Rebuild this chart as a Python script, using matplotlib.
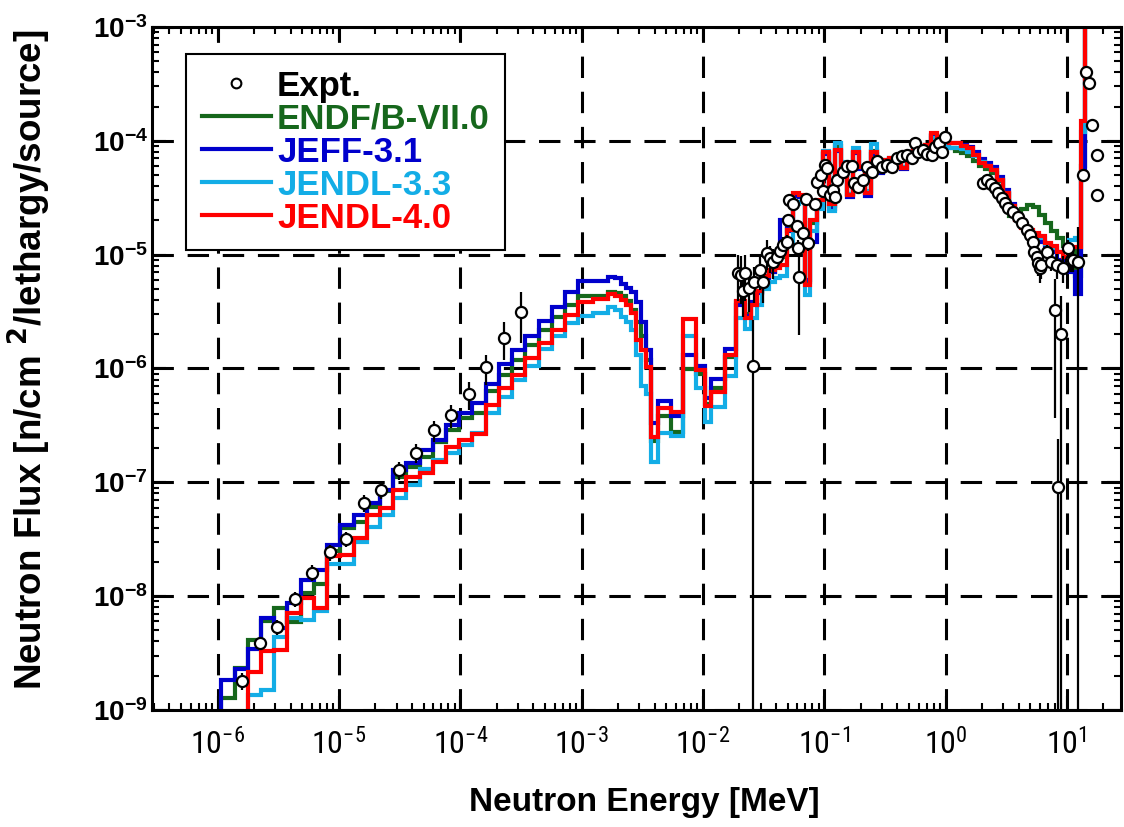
import numpy as np
import matplotlib
matplotlib.use("Agg")
import matplotlib.pyplot as plt
from matplotlib import font_manager
from matplotlib.lines import Line2D
from matplotlib.ticker import FixedLocator, LogLocator, NullFormatter

fonts = font_manager.fontManager.ttflist
names = {f.name for f in fonts}
narrow_kw = dict(fontfamily="Liberation Sans", fontsize=21)
for cand in ["Liberation Sans Narrow", "Roboto Condensed", "Open Sans Condensed"]:
    if cand in names:
        narrow_kw = dict(fontfamily=cand, fontsize=23)
        break
else:
    if any(f.name == "DejaVu Sans" and f.stretch == "condensed" for f in fonts):
        narrow_kw = dict(fontfamily="DejaVu Sans", fontstretch="condensed", fontsize=21)
plt.rcParams["font.family"] = ["Liberation Sans", "DejaVu Sans"]

# group boundaries [MeV]
edges_low = [8.32e-7, 1.07e-6, 1.38e-6, 1.77e-6, 2.28e-6, 2.92e-6, 3.76e-6, 4.83e-6, 6.21e-6, 7.98e-6,
             1.03e-5, 1.32e-5, 1.69e-5, 2.18e-5, 2.80e-5, 3.60e-5, 4.62e-5, 5.94e-5, 7.64e-5, 9.82e-5,
             1.26e-4, 1.62e-4, 2.08e-4, 2.68e-4, 3.44e-4, 4.43e-4, 5.69e-4, 7.31e-4, 9.40e-4]
edges_mid = [1.24e-3, 1.65e-3, 1.88e-3, 2.13e-3, 2.34e-3, 2.57e-3, 2.83e-3, 3.11e-3, 3.42e-3, 3.76e-3,
             4.27e-3, 5.50e-3, 6.85e-3, 8.84e-3, 1.04e-2, 1.17e-2, 1.51e-2]
edges_high = [0.01882, 0.02203, 0.02468, 0.02766, 0.03099, 0.03473, 0.03892, 0.04361, 0.04887, 0.05477,
              0.06137, 0.06877, 0.07706, 0.08639, 0.09683, 0.1085, 0.1216, 0.1363, 0.1527, 0.1711,
              0.1918, 0.2149, 0.2408, 0.2698, 0.3024, 0.3389, 0.3798, 0.4256, 0.4769, 0.5344,
              0.5988, 0.6711, 0.7520, 0.8428, 0.9447, 1.059, 1.186, 1.330, 1.490, 1.670,
              1.871, 2.097, 2.350, 2.633, 2.951, 3.307, 3.706, 4.153, 4.654, 5.214,
              5.844, 6.549, 7.339, 8.224, 9.215, 10.33, 11.57, 12.97, 14.0, 15.4]
edges = np.array(edges_low + edges_mid + edges_high)

# ENDF/B-VII.0
endf_low = [5e-10, 1.27e-9, 2.32e-9, 4.12e-9, 6.03e-9, 7.83e-9, 5.97e-9, 1.06e-8, 1.28e-8, 2.51e-8,
            3.94e-8, 4.52e-8, 6.11e-8, 8.32e-8, 1.12e-7, 1.35e-7, 1.68e-7, 2.24e-7, 2.88e-7, 3.66e-7,
            4.05e-7, 6.40e-7, 8.79e-7, 1.19e-6, 1.61e-6, 2.19e-6, 2.86e-6, 3.63e-6, 4.35e-6, 4.35e-6]
endf_mid = [4.65e-6, 4.57e-6, 4.29e-6, 3.89e-6, 3.27e-6, 2.58e-6, 1.91e-6, 1.19e-6,
            2.29e-7, 3.83e-7, 2.79e-7, 9.86e-7, 8.91e-7, 4.90e-7, 6.76e-7, 1.26e-6]
endf_high = [3.8e-6, 3.0e-6, 3.7e-6, 4.7e-6, 6.3e-6, 7.1e-6, 8.0e-6, 9.5e-6, 1.7e-5, 3.3e-5,
             3.3e-5, 5.8e-6, 1.9e-5, 2.9e-5, 7.8e-5, 2.7e-5, 9.0e-5, 6.0e-5, 3.4e-5, 8.0e-5,
             5.8e-5, 3.5e-5, 8.2e-5, 5.8e-5, 6.6e-5, 6.9e-5, 6.6e-5, 5.8e-5, 7.9e-5, 8.2e-5,
             8.7e-5, 9.1e-5, 1.1e-4, 1.04e-4, 9.5e-5, 8.6e-5, 8.2e-5, 7.8e-5, 7.3e-5, 6.7e-5,
             6.0e-5, 5.6e-5, 5.2e-5, 4.4e-5, 3.4e-5, 2.2e-5, 2.2e-5, 2.5e-5, 2.75e-5, 2.6e-5,
             2.25e-5, 1.9e-5, 1.6e-5, 1.4e-5, 1.2e-5, 1.15e-5, 6.5e-6, 6.0e-5, 3.0e-3]

# JEFF-3.1
jeff_low = [5e-10, 1.84e-9, 2.28e-9, 3.41e-9, 6.47e-9, 5.22e-9, 8.77e-9, 1.39e-8, 1.70e-8, 2.82e-8,
            4.23e-8, 5.16e-8, 6.55e-8, 8.57e-8, 1.28e-7, 1.49e-7, 1.93e-7, 2.36e-7, 3.19e-7, 4.09e-7,
            4.94e-7, 7.33e-7, 1.10e-6, 1.46e-6, 1.93e-6, 2.62e-6, 3.50e-6, 4.74e-6, 5.92e-6, 5.92e-6]
jeff_mid = [6.41e-6, 6.21e-6, 5.53e-6, 5.07e-6, 4.68e-6, 3.87e-6, 2.58e-6, 1.46e-6,
            3.30e-7, 5.13e-7, 3.80e-7, 1.32e-6, 1.05e-6, 5.50e-7, 8.04e-7, 1.48e-6]
jeff_high = [3.6e-6, 2.9e-6, 3.8e-6, 4.6e-6, 6.2e-6, 7.0e-6, 9.0e-6, 2.0e-5, 1.6e-5, 3.3e-5,
             3.2e-5, 6.0e-6, 1.3e-5, 2.7e-5, 7.6e-5, 2.5e-5, 8.1e-5, 5.8e-5, 3.2e-5, 7.8e-5,
             5.6e-5, 3.3e-5, 7.6e-5, 5.2e-5, 6.4e-5, 6.7e-5, 6.5e-5, 5.6e-5, 7.8e-5, 8.1e-5,
             8.6e-5, 9.0e-5, 1.12e-4, 1.05e-4, 1.0e-4, 9.6e-5, 9.6e-5, 9.2e-5, 8.9e-5, 8.0e-5,
             6.9e-5, 6.4e-5, 5.9e-5, 4.8e-5, 3.7e-5, 2.8e-5, 2.1e-5, 1.75e-5, 1.55e-5, 1.42e-5,
             1.3e-5, 1.15e-5, 1.05e-5, 9.0e-6, 8.0e-6, 7.0e-6, 4.5e-6, 5.0e-5, 3.0e-3]

# JENDL-3.3
j33_low = [5e-10, 5e-10, 5e-10, 1.36e-9, 1.50e-9, 4.41e-9, 6.46e-9, 6.18e-9, 7.41e-9, 1.91e-8,
           1.91e-8, 3.02e-8, 4.08e-8, 5.16e-8, 7.24e-8, 9.55e-8, 1.30e-7, 1.58e-7, 1.80e-7, 2.13e-7,
           2.69e-7, 4.05e-7, 5.66e-7, 7.94e-7, 1.05e-6, 1.48e-6, 1.93e-6, 2.50e-6, 2.90e-6, 3.05e-6]
j33_mid = [3.45e-6, 3.27e-6, 2.86e-6, 2.58e-6, 2.18e-6, 1.32e-6, 7.0e-7, 6.0e-7,
           1.52e-7, 2.69e-7, 2.57e-7, 1.93e-6, 6.76e-7, 3.39e-7, 4.62e-7, 8.51e-7]
j33_high = [2.8e-6, 2.2e-6, 2.8e-6, 3.6e-6, 5.0e-6, 5.8e-6, 6.2e-6, 6.5e-6, 1.3e-5, 2.8e-5,
            2.9e-5, 4.4e-6, 1.6e-5, 2.5e-5, 8.2e-5, 2.4e-5, 9.5e-5, 6.5e-5, 3.4e-5, 8.6e-5,
            6.0e-5, 3.6e-5, 9.3e-5, 6.0e-5, 6.8e-5, 7.0e-5, 6.8e-5, 5.9e-5, 8.0e-5, 8.3e-5,
            8.7e-5, 9.0e-5, 1.05e-4, 1.0e-4, 9.0e-5, 8.7e-5, 8.6e-5, 8.4e-5, 8.0e-5, 7.3e-5,
            6.5e-5, 6.0e-5, 5.5e-5, 4.5e-5, 3.5e-5, 2.7e-5, 2.0e-5, 1.75e-5, 1.6e-5, 1.5e-5,
            1.4e-5, 1.25e-5, 1.15e-5, 1.05e-5, 1.05e-5, 1.35e-5, 1.4e-5, 1.2e-4, 3.0e-3]

# JENDL-4.0
j40_low = [5e-10, 5e-10, 5e-10, 2.17e-9, 3.32e-9, 3.37e-9, 7.08e-9, 9.59e-9, 7.94e-9, 2.24e-8,
           2.30e-8, 3.24e-8, 5.13e-8, 5.92e-8, 8.63e-8, 1.12e-7, 1.20e-7, 1.52e-7, 2.06e-7, 2.36e-7,
           2.66e-7, 4.79e-7, 6.71e-7, 8.79e-7, 1.23e-6, 1.67e-6, 2.18e-6, 2.96e-6, 3.87e-6, 4.06e-6]
j40_mid = [4.50e-6, 4.29e-6, 4.01e-6, 3.63e-6, 3.05e-6, 1.78e-6, 1.46e-6, 1.04e-6,
           2.52e-7, 4.47e-7, 4.18e-7, 2.71e-6, 9.73e-7, 4.68e-7, 6.27e-7, 1.32e-6]
j40_high = [3.93e-6, 2.79e-6, 3.62e-6, 4.81e-6, 6.52e-6, 7.35e-6, 7.66e-6, 8.13e-6, 1.65e-5, 3.49e-5,
            3.35e-5, 5.43e-6, 2.02e-5, 3.03e-5, 8.00e-5, 2.79e-5, 8.33e-5, 6.15e-5, 3.35e-5, 8.00e-5,
            5.91e-5, 3.49e-5, 8.00e-5, 5.91e-5, 6.81e-5, 7.10e-5, 6.81e-5, 5.80e-5, 8.00e-5, 8.33e-5,
            8.85e-5, 9.23e-5, 1.17e-4, 1.08e-4, 1.02e-4, 9.59e-5, 9.59e-5, 9.00e-5, 8.60e-5, 7.53e-5,
            6.41e-5, 6.00e-5, 5.56e-5, 4.54e-5, 3.49e-5, 2.70e-5, 2.02e-5, 1.72e-5, 1.65e-5, 1.56e-5,
            1.46e-5, 1.27e-5, 1.20e-5, 1.06e-5, 9.57e-6, 1.17e-5, 1.17e-5, 1.50e-4, 3.0e-3]

# measured spectrum
expt_e = [1.60e-6, 2.22e-6, 3.08e-6, 4.31e-6, 6.04e-6, 8.38e-6, 1.15e-5, 1.60e-5, 2.24e-5, 3.13e-5,
          4.35e-5, 6.04e-5, 8.45e-5, 1.17e-4, 1.62e-4, 2.28e-4, 3.19e-4,
          0.01929, 0.02042, 0.02121, 0.02203, 0.02377, 0.02564, 0.02662, 0.02928, 0.03100, 0.03344,
          0.03540, 0.03748, 0.04044, 0.04280, 0.04531, 0.04888, 0.04982, 0.05173, 0.05478, 0.05910,
          0.06024, 0.06139, 0.06623, 0.07012, 0.07283, 0.08318, 0.08640, 0.09322, 0.09683, 0.1006,
          0.1045, 0.1106, 0.1171, 0.1216, 0.1263, 0.1415, 0.1527, 0.1679, 0.1744, 0.1881,
          0.2068, 0.2232, 0.2454, 0.2698, 0.2968, 0.3264, 0.3588, 0.3945, 0.4337, 0.4769,
          0.5244, 0.5551, 0.5876, 0.6461, 0.6973, 0.7667, 0.8116, 0.8755, 0.9269, 0.9812,
          2.018, 2.178, 2.350, 2.535, 2.684, 2.895, 3.064, 3.245, 3.568, 3.923,
          4.232, 4.654, 4.926, 5.214, 5.314, 5.626, 5.734, 5.955, 6.069, 6.803,
          7.339, 7.918, 8.224, 8.382, 8.874, 9.216, 10.13, 10.73, 11.14, 12.25,
          13.47, 14.26, 15.10, 15.98, 17.57, 17.57]
expt_flux = [1.81e-9, 3.85e-9, 5.33e-9, 9.39e-9, 1.61e-8, 2.43e-8, 3.18e-8, 6.64e-8, 8.57e-8, 1.27e-7,
             1.82e-7, 2.88e-7, 3.91e-7, 5.94e-7, 1.02e-6, 1.87e-6, 3.16e-6,
             6.92e-6, 6.65e-6, 4.81e-6, 6.92e-6, 5.11e-6, 1.05e-6, 5.77e-6, 7.35e-6, 5.77e-6, 1.04e-5,
             9.38e-6, 8.65e-6, 9.57e-6, 1.08e-5, 1.22e-5, 1.29e-5, 2.00e-5, 3.03e-5, 2.79e-5, 1.79e-5,
             1.15e-5, 6.38e-6, 1.56e-5, 3.09e-5, 1.27e-5, 2.79e-5, 4.37e-5, 5.03e-5, 3.63e-5, 6.15e-5,
             5.79e-5, 3.35e-5, 3.71e-5, 3.22e-5, 4.54e-5, 5.35e-5, 6.03e-5, 6.03e-5, 4.28e-5, 3.94e-5,
             4.54e-5, 5.91e-5, 5.35e-5, 6.67e-5, 5.91e-5, 6.15e-5, 5.91e-5, 7.10e-5, 7.38e-5, 7.53e-5,
             7.10e-5, 9.59e-5, 8.00e-5, 8.33e-5, 7.69e-5, 7.53e-5, 8.85e-5, 9.59e-5, 8.00e-5, 1.08e-4,
             4.28e-5, 4.54e-5, 4.19e-5, 3.86e-5, 3.49e-5, 3.15e-5, 2.85e-5, 2.58e-5, 2.38e-5, 2.15e-5,
             1.90e-5, 1.65e-5, 1.49e-5, 1.29e-5, 1.06e-5, 9.57e-6, 8.47e-6, 7.66e-6, 8.13e-6, 1.06e-5,
             8.65e-6, 3.27e-6, 8.13e-6, 9.12e-8, 2.01e-6, 7.66e-6, 1.15e-5, 8.99e-6, 8.99e-6, 8.65e-6,
             5.03e-5, 4.04e-4, 3.24e-4, 1.38e-4, 7.53e-5, 3.35e-5]
expt_err = [3e-10, 5e-10, 8e-10, 1.4e-9, 2.5e-9, 4e-9, 5e-9, 1.1e-8, 1.5e-8, 2.3e-8,
            3.5e-8, 6e-8, 9e-8, 1.6e-7, 3e-7, 6.8e-7, 1.5e-6,
            3e-6, 3e-6, 2e-6, 3e-6, 2e-6, 1.6e-6, 2e-6, 2.5e-6, 2e-6, 3e-6,
            2.5e-6, 2.5e-6, 2e-6, 2e-6, 2e-6, 2e-6, 2e-6, 2e-6, 2e-6, 2e-6,
            2e-6, 4.4e-6, 2e-6, 2e-6, 2e-6, 2e-6, 2.5e-6, 2.5e-6, 2e-6, 3e-6,
            3e-6, 2e-6, 2e-6, 2e-6, 2e-6, 2e-6, 2e-6, 2e-6, 2e-6, 2e-6,
            2e-6, 2e-6, 2e-6, 2e-6, 2e-6, 2e-6, 2e-6, 2e-6, 2e-6, 2e-6,
            2e-6, 3e-6, 3e-6, 3e-6, 3e-6, 3e-6, 3e-6, 3e-6, 3e-6, 3e-6,
            1.5e-6, 1.5e-6, 1.5e-6, 1.5e-6, 1.5e-6, 1.5e-6, 1.5e-6, 1.5e-6, 1.5e-6, 1.5e-6,
            1.5e-6, 1.5e-6, 1.5e-6, 1.5e-6, 1.5e-6, 2e-6, 2e-6, 2e-6, 2e-6, 1.5e-6,
            1.5e-6, 2.9e-6, 2e-6, 1.5e-7, 2.3e-6, 2e-6, 2e-6, 2e-6, 2e-6, 9e-6,
            3e-6, 1e-5, 1e-5, 1e-5, 1e-5, 1e-6]

labels = ["ENDF/B-VII.0", "JEFF-3.1", "JENDL-3.3", "JENDL-4.0"]
colors = ["#16671c", "#0000cc", "#13ade6", "#ff0000"]
series = [endf_low + endf_mid + endf_high,
          jeff_low + jeff_mid + jeff_high,
          j33_low + j33_mid + j33_high,
          j40_low + j40_mid + j40_high]

fig = plt.figure(figsize=(11.24, 8.27), dpi=100)
ax = fig.add_axes([0.1352, 0.1415, 0.8621, 0.8259])
ax.set_xscale("log")
ax.set_yscale("log")

ax.grid(True, which="major", color="black", lw=2.2, linestyle=(0, (7, 4.5)))
ax.set_axisbelow(True)

for vals, col in zip(series, colors):
    ax.stairs(vals, edges, baseline=None, color=col, lw=3, zorder=2)

e = np.array(expt_e)
f = np.array(expt_flux)
err = np.array(expt_err)
low = np.minimum(err, f * 0.99999)
ax.errorbar(e, f, yerr=[low, err], fmt="none", ecolor="black", elinewidth=1.6, zorder=3)
ax.plot(e, f, "o", ms=8, mfc="white", mec="black", mew=1.6, zorder=4)

ax.set_xlim(2.88e-7, 27.9)
ax.set_ylim(1e-9, 1e-3)

xt = [1e-6, 1e-5, 1e-4, 1e-3, 1e-2, 1e-1, 1e0, 1e1]
xt_lab = [r"$\mathregular{10^{%d}}$" % p for p in range(-6, 2)]
ax.xaxis.set_major_locator(FixedLocator(xt))
ax.set_xticklabels(xt_lab, **narrow_kw)
yt = [1e-9, 1e-8, 1e-7, 1e-6, 1e-5, 1e-4, 1e-3]
yt_lab = [r"$\mathregular{10^{%d}}$" % p for p in range(-9, -2)]
ax.yaxis.set_major_locator(FixedLocator(yt))
ax.set_yticklabels(yt_lab, fontweight="bold", fontsize=20)
for a in (ax.xaxis, ax.yaxis):
    a.set_minor_locator(LogLocator(base=10, subs=np.arange(2, 10), numticks=30))
    a.set_minor_formatter(NullFormatter())

ax.tick_params(which="both", direction="in", top=True, right=True, width=1.5)
ax.tick_params(which="major", length=10)
ax.tick_params(which="minor", length=5)
ax.tick_params(axis="x", pad=13)
ax.tick_params(axis="y", pad=3)
for s in ax.spines.values():
    s.set_linewidth(2.2)

fig.text(0.573, 0.030, "Neutron Energy [MeV]", ha="center", va="center",
         fontsize=24, fontweight="bold")
fig.text(0.026, 0.565, r"Neutron Flux [n/cm $\mathbf{^2}$/lethargy/source]", ha="center",
         va="center", rotation=90, fontsize=26.5, fontweight="bold")

handles = [Line2D([], [], ls="none", marker="o", ms=7, mfc="white", mec="black", mew=1.5)]
handles += [Line2D([], [], color=c, lw=3) for c in colors]
leg = ax.legend(handles, ["Expt."] + labels, loc="upper left", bbox_to_anchor=(0.0351, 0.9605),
                prop=dict(family="Liberation Sans", weight="bold", size=25),
                frameon=True, fancybox=False, edgecolor="black", framealpha=1,
                handlelength=2.0, handletextpad=0.17, labelspacing=0.0,
                borderpad=0.45, borderaxespad=0)
leg.get_frame().set_linewidth(1.5)
for t, c in zip(leg.get_texts(), ["black"] + colors):
    t.set_color(c)
leg.set_zorder(5)

fig.savefig("out.png", dpi=100)
